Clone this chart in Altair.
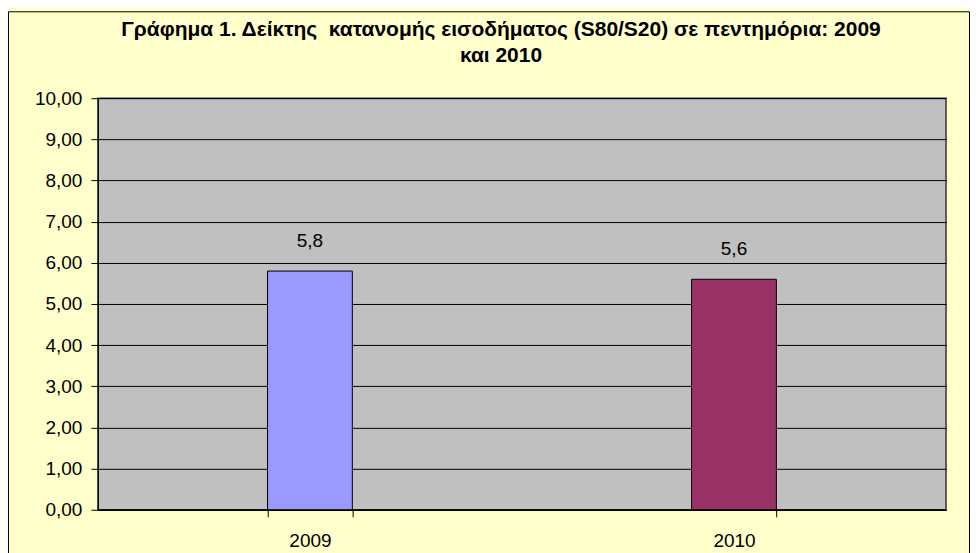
import altair as alt
import pandas as pd

years = ["2009", "2010"]
values = [5.8, 5.6]
labels = ["5,8", "5,6"]
colors = ["#9999FF", "#993366"]
title_lines = ["Γράφημα 1. Δείκτης \u00a0κατανομής εισοδήματος (S80/S20) σε πεντημόρια: 2009", "και 2010"]

df = pd.DataFrame({"year": years, "value": values, "label": labels})

W = 849
H = 412
PAD_L, PAD_T, PAD_R, PAD_B = 90, 90, 24, 48
FONT = "Liberation Sans"
FS = 19

base = alt.Chart(df)

frame = base.mark_rect(fillOpacity=0, stroke="#000000", strokeWidth=1, clip=False).encode(
    x=alt.value(-PAD_L + 0.5), x2=alt.value(W + PAD_R - 0.5),
    y=alt.value(-PAD_T + 3.5), y2=alt.value(H + PAD_B + 20)
).transform_filter("datum.year == '2009'")

bars = base.mark_bar(stroke="#000000", strokeWidth=1).encode(
    x=alt.X("year:N", sort=years, title=None,
            scale=alt.Scale(paddingInner=0.8, paddingOuter=0.4),
            axis=alt.Axis(labelAngle=0, tickBand="extent", labelFontSize=FS,
                          labelFont=FONT, labelColor="#000000", labelPadding=15,
                          tickSize=7, tickColor="#000000", domainColor="#000000",
                          domainWidth=1.5, grid=False)),
    y=alt.Y("value:Q", title=None,
            scale=alt.Scale(domain=[0, 10], nice=False),
            axis=alt.Axis(values=list(range(0, 11)), format=".2f",
                          labelExpr="replace(datum.label, '.', ',')",
                          labelFontSize=FS, labelFont=FONT, labelColor="#000000",
                          labelPadding=9, tickSize=7, tickColor="#000000",
                          domainColor="#000000", gridColor="#000000",
                          gridWidth=1, grid=True)),
    color=alt.Color("year:N", scale=alt.Scale(domain=years, range=colors), legend=None),
)

text = base.mark_text(fontSize=FS, font=FONT, color="#000000", baseline="middle", dy=-30).encode(
    x=alt.X("year:N", sort=years),
    y=alt.Y("value:Q"),
    text="label:N",
)

chart = alt.layer(frame, bars, text).properties(
    width=W, height=H,
    autosize=alt.AutoSizeParams(type="none"),
    padding={"left": PAD_L, "top": PAD_T, "right": PAD_R, "bottom": PAD_B},
    title=alt.TitleParams(
        text=title_lines,
        font=FONT, fontSize=21, fontWeight="bold", color="#000000",
        lineHeight=26, offset=-55, anchor="middle", frame="bounds", dx=12,
    ),
).configure(background="#FFFFCC").configure_view(
    fill="#C0C0C0", stroke="#333333", strokeWidth=1.5
)

chart.save("out.html", embed_options={"renderer": "svg", "actions": False})
